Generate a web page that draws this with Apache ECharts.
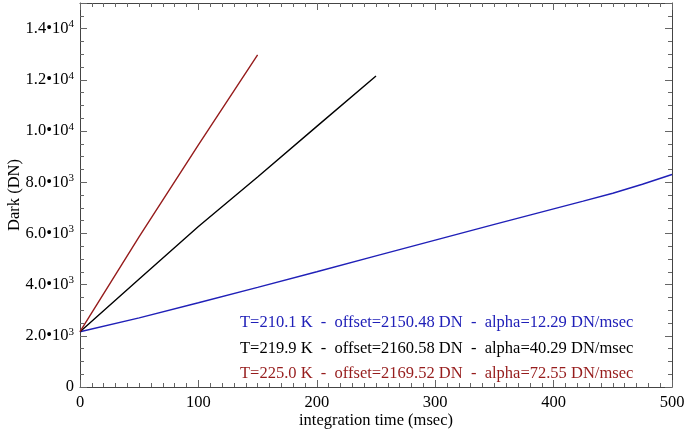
<!DOCTYPE html>
<html>
<head>
<meta charset="utf-8">
<script src="https://cdn.jsdelivr.net/npm/echarts@6/dist/echarts.min.js"></script>
<style>html,body{margin:0;padding:0;background:#fff}#c{width:685px;height:435px}</style>
</head>
<body>
<div id="c"></div>
<script>
// Data
const blueT = [0, 50, 100, 150, 200, 250, 300, 350, 400, 425, 450, 475, 500];
const blueV = [2160, 2700, 3290, 3890, 4500, 5120, 5740, 6350, 6960, 7260, 7570, 7920, 8300];
const blackT = [0, 50, 100, 150, 200, 250];
const blackV = [2160, 4215, 6270, 8200, 10180, 12150];
const redT = [0, 50, 100, 150];
const redV = [2160, 5870, 9460, 12970];
const legendTexts = [
  'T=210.1 K  -  offset=2150.48 DN  -  alpha=12.29 DN/msec',
  'T=219.9 K  -  offset=2160.58 DN  -  alpha=40.29 DN/msec',
  'T=225.0 K  -  offset=2169.52 DN  -  alpha=72.55 DN/msec'
];
const colors = ['#2020b8', '#000000', '#961c1c'];
const yTickLabels = {0:'0', 2000:'2.0•10|3', 4000:'4.0•10|3', 6000:'6.0•10|3', 8000:'8.0•10|3', 10000:'1.0•10|4', 12000:'1.2•10|4', 14000:'1.4•10|4'};

const pair = (t, v) => t.map((x, i) => [x, v[i]]);
const FONT = 'Liberation Serif';
const FS = 16.5;
const axisCol = '#666';

const chart = echarts.init(document.getElementById('c'));
function common(split) {
  return {
    axisLine: {show: true, onZero: false, lineStyle: {color: '#444', width: 1}},
    axisTick: {show: true, inside: true, length: 7, lineStyle: {color: axisCol}},
    minorTick: {show: true, splitNumber: split, length: 4, lineStyle: {color: axisCol}},
    splitLine: {show: false}
  };
}
chart.setOption({
  animation: false,
  grid: {left: 80, right: 13, top: 3, bottom: 48, show: false, containLabel: false, outerBoundsMode: 'none'},
  xAxis: [
    Object.assign({
      type: 'value', min: 0, max: 500, interval: 100, position: 'bottom',
      name: 'integration time (msec)', nameLocation: 'middle', nameGap: 25, nameMoveOverlap: false,
      nameTextStyle: {fontFamily: FONT, fontSize: FS, color: '#000'},
      axisLabel: {fontFamily: FONT, fontSize: FS, color: '#000', margin: 7}
    }, common(10)),
    Object.assign({
      type: 'value', min: 0, max: 500, interval: 100, position: 'top',
      axisLabel: {show: false}
    }, common(10))
  ],
  yAxis: [
    Object.assign({
      type: 'value', min: 0, max: 15000, interval: 2000, position: 'left',
      name: 'Dark (DN)', nameLocation: 'middle', nameGap: 57, nameMoveOverlap: false,
      nameTextStyle: {fontFamily: FONT, fontSize: FS, color: '#000'},
      axisLabel: {
        fontFamily: FONT, fontSize: FS, color: '#000', margin: 6,
        formatter: function (v) {
          const s = yTickLabels[v];
          if (s === undefined) return '';
          if (s.indexOf('|') < 0) return '{a|' + s + '}';
          const p = s.split('|');
          return '{a|' + p[0] + '}{s|' + p[1] + '}';
        },
        rich: {
          a: {fontFamily: FONT, fontSize: FS, color: '#000'},
          s: {fontFamily: FONT, fontSize: 11, color: '#000', verticalAlign: 'top', padding: [0, 0, 8, 0]}
        }
      }
    }, common(4)),
    Object.assign({
      type: 'value', min: 0, max: 15000, interval: 2000, position: 'right',
      axisLabel: {show: false}
    }, common(4))
  ],
  series: [
    {type: 'line', data: pair(blueT, blueV), showSymbol: false, lineStyle: {color: colors[0], width: 1.4}, xAxisIndex: 0, yAxisIndex: 0},
    {type: 'line', data: pair(blackT, blackV), showSymbol: false, lineStyle: {color: colors[1], width: 1.4}, xAxisIndex: 0, yAxisIndex: 0},
    {type: 'line', data: pair(redT, redV), showSymbol: false, lineStyle: {color: colors[2], width: 1.4}, xAxisIndex: 0, yAxisIndex: 0}
  ],
  graphic: legendTexts.map((t, i) => ({
    type: 'text', left: 240, top: 314.5 + i * 25.5,
    style: {text: t, fill: colors[i], font: FS + 'px "' + FONT + '"'}
  }))
});
</script>
</body>
</html>
